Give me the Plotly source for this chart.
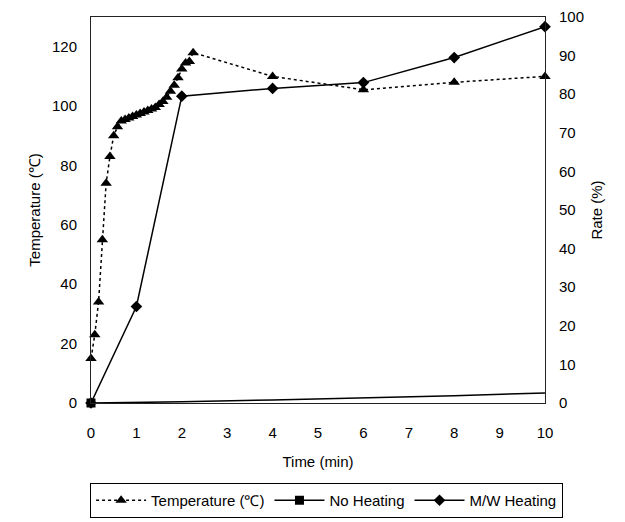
import plotly.graph_objects as go

# Temperature logged every 5 s for the first 135 s, then at 4, 6, 8, 10 min
temp_seconds = [0, 5, 10, 15, 20, 25, 30, 35, 40, 45, 50, 55, 60, 65, 70,
                75, 80, 85, 90, 95, 100, 105, 110, 115, 120, 125, 130, 135]
temp_time_late = [4, 6, 8, 10]
temp_early = [15, 23, 34, 55, 74, 83, 90, 93, 95, 95.5, 96, 96.5, 97, 97.5, 98,
              98.5, 99, 99.5, 100.5, 101.5, 103, 105, 107, 109.5, 112.5, 114.5, 115, 118]
temp_late = [110, 105.5, 108, 110]

temp_time = [s / 60 for s in temp_seconds] + temp_time_late
temperature = temp_early + temp_late

# Conversion rate (%)
rate_time = [0, 1, 2, 4, 6, 8, 10]
mw_heating = [0, 25, 79.5, 81.5, 83, 89.5, 97.5]
no_heat_time = [0, 2, 4, 6, 8, 10]
no_heating = [0, 0.3, 0.8, 1.3, 1.9, 2.6]

FONT = "Liberation Sans, Arial, sans-serif"

fig = go.Figure()

fig.add_trace(go.Scatter(
    x=temp_time, y=temperature, name="Temperature (℃)", mode="lines+markers",
    line=dict(color="black", width=1.5, dash="dot"),
    marker=dict(symbol="triangle-up", size=10, color="black"),
    cliponaxis=False, yaxis="y",
))
# No-heating run: full line, square marker only at the starting point
fig.add_trace(go.Scatter(
    x=no_heat_time, y=no_heating, mode="lines", showlegend=False,
    line=dict(color="black", width=1.5), legendgroup="nh",
    cliponaxis=False, yaxis="y2",
))
fig.add_trace(go.Scatter(
    x=no_heat_time[:1], y=no_heating[:1], name="No Heating", mode="lines+markers",
    line=dict(color="black", width=1.5), legendgroup="nh",
    marker=dict(symbol="square", size=9, color="black"),
    cliponaxis=False, yaxis="y2",
))
fig.add_trace(go.Scatter(
    x=rate_time, y=mw_heating, name="M/W Heating", mode="lines+markers",
    line=dict(color="black", width=1.5),
    marker=dict(symbol="diamond", size=9, color="black"),
    cliponaxis=False, yaxis="y2",
))

axis_common = dict(showgrid=False, zeroline=False, showline=True, linecolor="#222",
                   linewidth=1, ticks="",
                   tickfont=dict(family=FONT, size=15, color="black"))

fig.update_layout(
    width=625, height=522,
    margin=dict(l=91, r=80, t=17, b=119, autoexpand=False),
    paper_bgcolor="white", plot_bgcolor="white",
    font=dict(family=FONT, size=15, color="black"),
    xaxis=dict(range=[0, 10], dtick=1, mirror=True, ticklabelstandoff=16,
               title=dict(text="Time (min)", font=dict(family=FONT, size=15), standoff=16),
               **axis_common),
    yaxis=dict(range=[0, 130], tickvals=[0, 20, 40, 60, 80, 100, 120], mirror=True,
               ticklabelstandoff=10,
               title=dict(text="Temperature (℃)", font=dict(family=FONT, size=15), standoff=7),
               **axis_common),
    yaxis2=dict(range=[0, 100], dtick=10, overlaying="y", side="right",
                ticklabelstandoff=10,
                title=dict(text="Rate (%)", font=dict(family=FONT, size=15), standoff=8),
                **axis_common),
    legend=dict(orientation="h", x=-0.002, xanchor="left",
                y=-(518 - 403) / 386, yanchor="bottom",
                bordercolor="black", borderwidth=1, bgcolor="white",
                font=dict(family=FONT, size=15), itemwidth=50,
                traceorder="normal"),
)

fig.write_html("out.html")
